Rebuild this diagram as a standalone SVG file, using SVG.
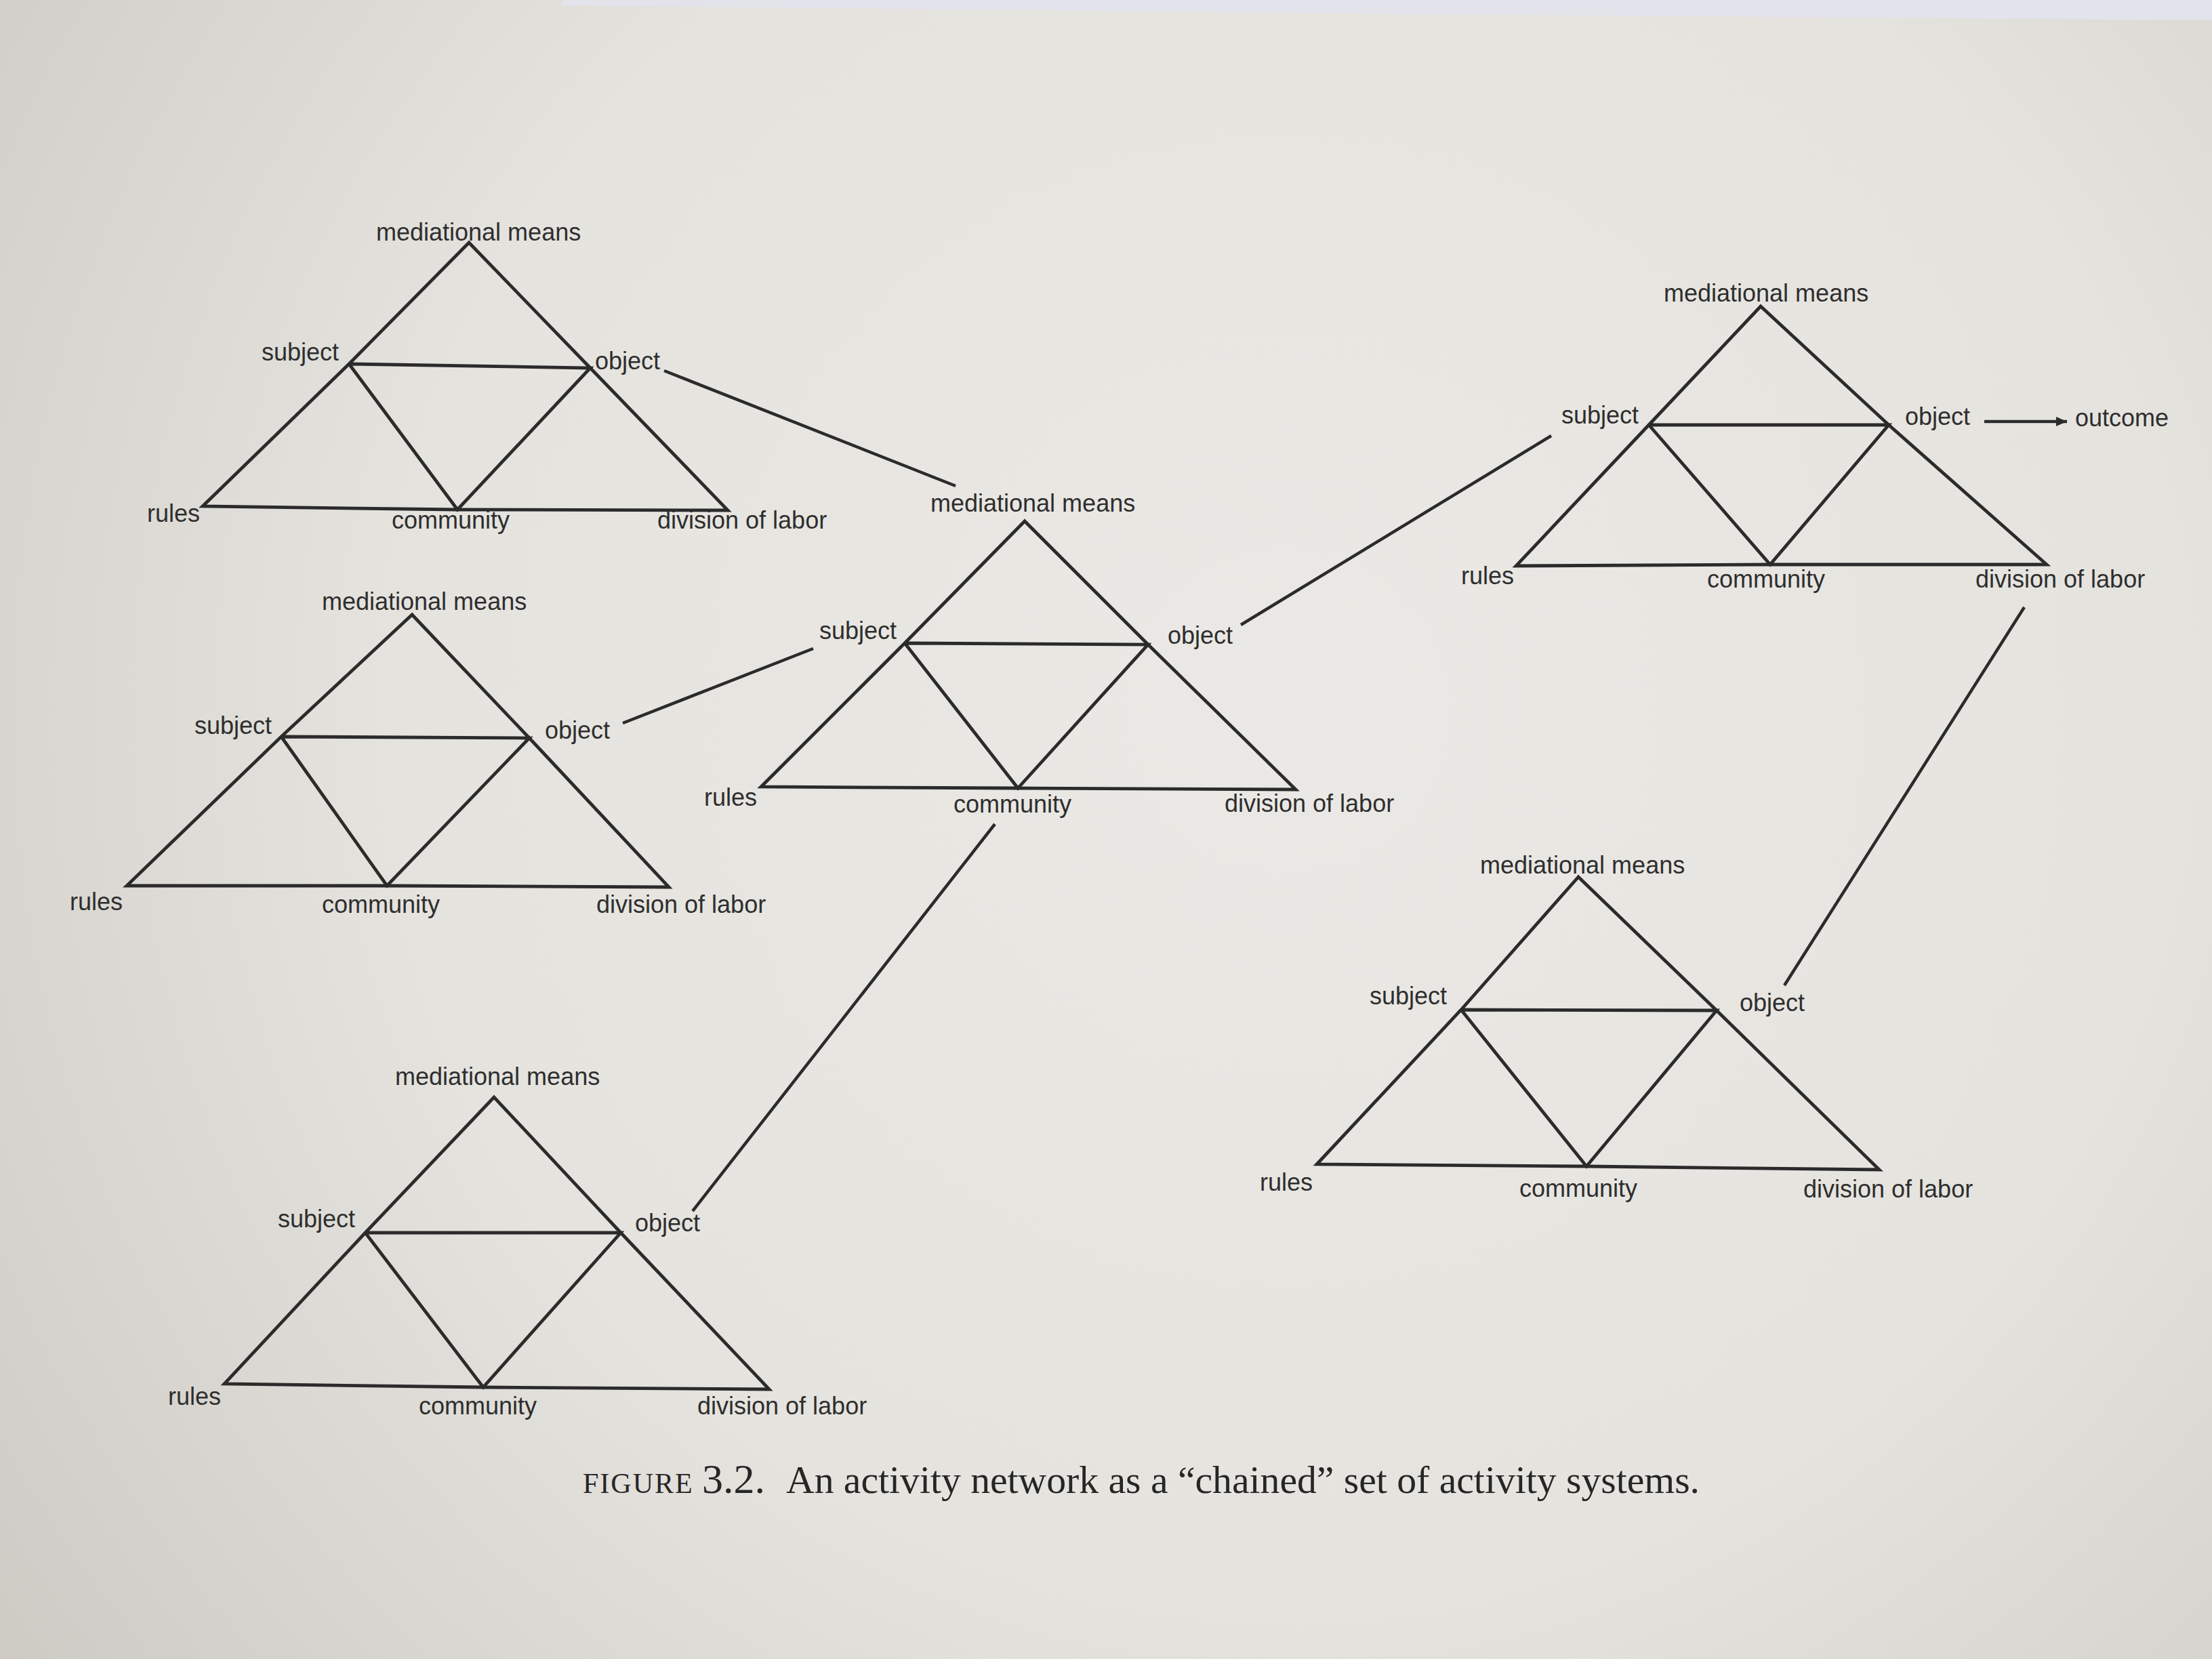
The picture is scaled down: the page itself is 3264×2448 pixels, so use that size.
<svg xmlns="http://www.w3.org/2000/svg" width="3264" height="2448" viewBox="0 0 3264 2448">
  <defs>
    <radialGradient id="paper" cx="1900" cy="1050" r="2400" gradientUnits="userSpaceOnUse">
      <stop offset="0" stop-color="#ebe9e5"/>
      <stop offset="0.55" stop-color="#e5e3de"/>
      <stop offset="1" stop-color="#cdcac4"/>
    </radialGradient>
    <marker id="arrowhead" markerUnits="userSpaceOnUse" markerWidth="18" markerHeight="16" refX="16" refY="8" orient="auto">
      <path d="M0,1 L16,8 L0,15 Z" fill="#2b2b2b"/>
    </marker>
    <style>
      .tri { fill: none; stroke: #2b2b2b; stroke-width: 4.8; stroke-linejoin: miter; }
      .edge { fill: none; stroke: #2b2b2b; stroke-width: 4.5; stroke-linecap: butt; }
      .lbl { font-family: "Liberation Sans", Arial, sans-serif; font-size: 36px; fill: #2e2e2e; }
      .cap { font-family: "Liberation Serif", "Times New Roman", serif; font-size: 58px; fill: #262626; }
    </style>
  </defs>

  <rect x="0" y="0" width="3264" height="2448" fill="url(#paper)"/>
  <polygon points="830,0 3264,0 3264,30 2000,20 830,8" fill="#e3e3ec"/>

  <g id="system-top-left">
    <polygon class="tri" points="692,358 515,537 299,747 675,752 1074,753 871,543"/>
    <polyline class="tri" points="515,537 871,543 675,752 515,537"/>
    <text class="lbl" x="555" y="355">mediational means</text>
    <text class="lbl" x="386" y="532">subject</text>
    <text class="lbl" x="878" y="545">object</text>
    <text class="lbl" x="217" y="770">rules</text>
    <text class="lbl" x="578" y="780">community</text>
    <text class="lbl" x="970" y="780">division of labor</text>
  </g>

  <g id="system-mid-left">
    <polygon class="tri" points="608,907 415,1087 187,1307 571,1307 987,1309 781,1089"/>
    <polyline class="tri" points="415,1087 781,1089 571,1307 415,1087"/>
    <text class="lbl" x="475" y="900">mediational means</text>
    <text class="lbl" x="287" y="1083">subject</text>
    <text class="lbl" x="804" y="1090">object</text>
    <text class="lbl" x="103" y="1343">rules</text>
    <text class="lbl" x="475" y="1347">community</text>
    <text class="lbl" x="880" y="1347">division of labor</text>
  </g>

  <g id="system-center">
    <polygon class="tri" points="1512,769 1335,949 1123,1161 1502,1163 1912,1165 1694,951"/>
    <polyline class="tri" points="1335,949 1694,951 1502,1163 1335,949"/>
    <text class="lbl" x="1373" y="755">mediational means</text>
    <text class="lbl" x="1209" y="943">subject</text>
    <text class="lbl" x="1723" y="950">object</text>
    <text class="lbl" x="1039" y="1189">rules</text>
    <text class="lbl" x="1407" y="1199">community</text>
    <text class="lbl" x="1807" y="1198">division of labor</text>
  </g>

  <g id="system-top-right">
    <polygon class="tri" points="2598,452 2433,627 2237,835 2612,833 3020,833 2787,627"/>
    <polyline class="tri" points="2433,627 2787,627 2612,833 2433,627"/>
    <text class="lbl" x="2455" y="445">mediational means</text>
    <text class="lbl" x="2304" y="625">subject</text>
    <text class="lbl" x="2811" y="627">object</text>
    <text class="lbl" x="3062" y="629">outcome</text>
    <text class="lbl" x="2156" y="862">rules</text>
    <text class="lbl" x="2519" y="867">community</text>
    <text class="lbl" x="2915" y="867">division of labor</text>
  </g>

  <g id="system-bottom-right">
    <polygon class="tri" points="2329,1294 2156,1490 1943,1718 2341,1721 2773,1726 2533,1491"/>
    <polyline class="tri" points="2156,1490 2533,1491 2341,1721 2156,1490"/>
    <text class="lbl" x="2184" y="1289">mediational means</text>
    <text class="lbl" x="2021" y="1482">subject</text>
    <text class="lbl" x="2567" y="1492">object</text>
    <text class="lbl" x="1859" y="1757">rules</text>
    <text class="lbl" x="2242" y="1766">community</text>
    <text class="lbl" x="2661" y="1767">division of labor</text>
  </g>

  <g id="system-bottom-left">
    <polygon class="tri" points="729,1619 539,1819 331,2042 713,2047 1135,2050 916,1819"/>
    <polyline class="tri" points="539,1819 916,1819 713,2047 539,1819"/>
    <text class="lbl" x="583" y="1601">mediational means</text>
    <text class="lbl" x="410" y="1811">subject</text>
    <text class="lbl" x="937" y="1817">object</text>
    <text class="lbl" x="248" y="2073">rules</text>
    <text class="lbl" x="618" y="2087">community</text>
    <text class="lbl" x="1029" y="2087">division of labor</text>
  </g>

  <g id="connectors">
    <line class="edge" x1="980" y1="547" x2="1410" y2="717"/>
    <line class="edge" x1="919" y1="1067" x2="1200" y2="957"/>
    <line class="edge" x1="1468" y1="1216" x2="1022" y2="1787"/>
    <line class="edge" x1="1831" y1="922" x2="2289" y2="643"/>
    <line class="edge" x1="2987" y1="896" x2="2633" y2="1454"/>
    <line class="edge" x1="2928" y1="622" x2="3050" y2="622" marker-end="url(#arrowhead)"/>
  </g>

  <g id="caption">
    <text class="cap" x="860" y="2203"><tspan font-size="42" letter-spacing="2">FIGURE</tspan><tspan x="1036" font-size="62">3.2.</tspan></text>
    <text class="cap" x="1160" y="2203" textLength="1348" lengthAdjust="spacingAndGlyphs">An activity network as a “chained” set of activity systems.</text>
  </g>
</svg>
